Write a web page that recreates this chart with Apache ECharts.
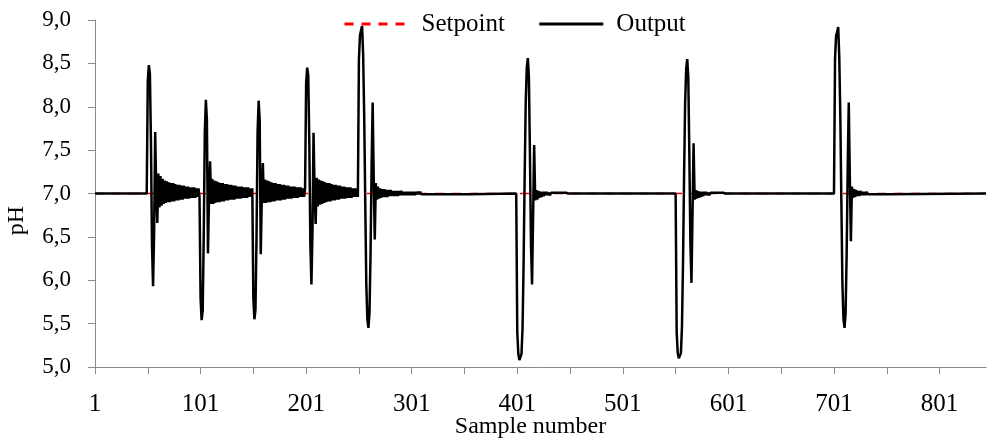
<!DOCTYPE html>
<html>
<head>
<meta charset="utf-8">
<script src="https://cdn.jsdelivr.net/npm/echarts@6/dist/echarts.min.js"></script>
<style>
html,body{margin:0;padding:0;background:#fff;}
#chart{width:987px;height:438px;}
</style>
</head>
<body>
<div id="chart"></div>
<script>
// ---- data (sample number, pH) ----
const setpoint = 7.0;
const firstSample = 1;
const lastSample = 845;
const xTickValues = [1, 51, 101, 151, 201, 251, 301, 351, 401, 451, 501, 551, 601, 651, 701, 751, 801];
const xLabelValues = [1, 101, 201, 301, 401, 501, 601, 701, 801];
const eventStarts = [51, 101, 151, 201, 251, 401, 552, 702];

const evA = [8.30, 8.48, 8.38, 7.60, 6.40, 5.93, 6.55, 7.71, 7.05, 6.66,
  7.23, 6.84, 7.20, 6.86, 7.17, 6.88, 7.15, 6.89, 7.14, 6.90, 7.13, 6.90, 7.12, 6.91, 7.12, 6.91, 7.11, 6.92, 7.10, 6.92,
  7.10, 6.93, 7.09, 6.93, 7.09, 6.94, 7.08, 6.94, 7.08, 6.94, 7.07, 6.95, 7.07, 6.95, 7.07, 6.95, 7.06, 6.96, 7.06, 6.96];
const evB = [5.80, 5.54, 5.65, 6.50, 7.70, 8.08, 7.85, 6.31, 6.95, 7.37,
  6.88, 7.17, 6.88, 7.15, 6.89, 7.14, 6.90, 7.13, 6.90, 7.12, 6.91, 7.12, 6.91, 7.11, 6.92, 7.11, 6.92, 7.10, 6.93, 7.10,
  6.93, 7.09, 6.93, 7.09, 6.94, 7.08, 6.94, 7.08, 6.94, 7.08, 6.95, 7.07, 6.95, 7.07, 6.95, 7.07, 6.96, 7.06, 6.96, 7.06];
const evC = [5.80, 5.55, 5.66, 6.50, 7.70, 8.07, 7.85, 6.30, 6.95, 7.35,
  6.89, 7.16, 6.89, 7.15, 6.90, 7.14, 6.90, 7.13, 6.91, 7.12, 6.91, 7.12, 6.92, 7.11, 6.92, 7.11, 6.92, 7.10, 6.93, 7.10,
  6.93, 7.09, 6.94, 7.09, 6.94, 7.08, 6.94, 7.08, 6.95, 7.08, 6.95, 7.07, 6.95, 7.07, 6.96, 7.07, 6.96, 7.06, 6.96, 7.06];
const evD = [8.28, 8.45, 8.36, 7.60, 6.42, 5.95, 6.55, 7.70, 7.05, 6.65,
  7.18, 6.85, 7.16, 6.87, 7.15, 6.88, 7.14, 6.89, 7.13, 6.90, 7.12, 6.91, 7.12, 6.91, 7.11, 6.92, 7.10, 6.92, 7.10, 6.93,
  7.09, 6.93, 7.09, 6.94, 7.08, 6.94, 7.08, 6.94, 7.07, 6.95, 7.07, 6.95, 7.07, 6.95, 7.06, 6.96, 7.06, 6.96, 7.06, 6.96];
const evE = [8.55, 8.82, 8.88, 8.93, 8.60, 7.90, 6.90, 5.95, 5.55, 5.45, 5.62, 6.30, 7.30, 8.05, 7.20, 6.47,
  7.12, 6.93, 7.08, 6.94, 7.06, 6.95, 7.05, 6.96, 7.05, 6.96, 7.04, 6.96, 7.04, 6.97, 7.04, 6.97, 7.03, 6.97, 7.03, 6.97,
  7.03, 6.97, 7.03, 6.98, 7.03, 6.98, 7.02, 6.98, 7.02, 6.98, 7.02, 6.98, 7.02, 6.98, 7.02, 6.98, 7.02, 6.98, 7.02, 6.99,
  7.02, 6.99, 7.02, 6.99, 7.01, 6.99, 7.01, 6.99, 7.01, 6.99, 7.01, 6.99, 7.01, 6.99, 7.01, 6.99, 7.01, 6.99, 7.01, 6.99,
  7.01, 6.99, 7.01, 6.99, 7.01, 6.99, 7.01, 6.99, 7.01, 6.99, 7.01, 6.99, 7.01, 6.99, 7.01, 6.99, 7.01, 6.99, 7.01, 6.99,
  7.01, 6.99, 7.01, 6.99, 7.01, 6.99, 7.01, 6.99, 7.01, 6.99];
const evF = [5.40, 5.15, 5.08, 5.08, 5.15, 5.45, 6.20, 7.20, 8.05, 8.45, 8.56, 8.35, 7.45, 6.40, 5.95, 6.75, 7.56, 6.92,
  7.04, 6.93, 7.03, 6.95, 7.02, 6.96, 7.02, 6.97, 7.02, 6.98, 7.02, 6.98, 7.01, 6.98, 7.01, 6.99, 7.01, 6.99, 7.01, 6.99,
  7.01, 6.99, 7.01, 6.99, 7.01, 6.99, 7.01, 6.99, 7.01, 6.99];
const evG = [5.40, 5.16, 5.10, 5.10, 5.16, 5.46, 6.20, 7.20, 8.04, 8.44, 8.55, 8.34, 7.45, 6.42, 5.97, 6.76, 7.58, 6.93,
  7.04, 6.94, 7.03, 6.95, 7.02, 6.96, 7.02, 6.97, 7.02, 6.98, 7.02, 6.98, 7.01, 6.98, 7.01, 6.99, 7.01, 6.99, 7.01, 6.99,
  7.01, 6.99, 7.01, 6.99, 7.01, 6.99, 7.01, 6.99];
const evH = [8.55, 8.82, 8.86, 8.92, 8.58, 7.90, 6.90, 5.95, 5.55, 5.45, 5.62, 6.30, 7.30, 8.05, 7.20, 6.45,
  7.08, 6.95, 7.05, 6.96, 7.04, 6.97, 7.03, 6.97, 7.03, 6.98, 7.02, 6.98, 7.02, 6.98, 7.02, 6.99, 7.01, 6.99, 7.01, 6.99,
  7.01, 6.99, 7.01, 6.99, 7.01, 6.99, 7.01, 6.99, 7.01, 6.99, 7.01, 6.99, 7.01, 6.99];
const eventValues = [evA, evB, evC, evD, evE, evF, evG, evH];

// ---- build series points ----
const outputPoints = [[firstSample, setpoint]];
eventStarts.forEach(function (start, k) {
  const vals = eventValues[k];
  const last = outputPoints[outputPoints.length - 1][0];
  if (last < start - 1) outputPoints.push([start - 1, setpoint]);
  vals.forEach(function (v, i) { outputPoints.push([start + i, v]); });
  const end = start + vals.length - 1;
  const next = k + 1 < eventStarts.length ? eventStarts[k + 1] : lastSample + 1;
  if (next > end + 1) outputPoints.push([end + 1, setpoint]);
});
if (outputPoints[outputPoints.length - 1][0] < lastSample) outputPoints.push([lastSample, setpoint]);
const setpointPoints = [[firstSample, setpoint], [lastSample, setpoint]];

const FONT = 'Liberation Serif, Times New Roman, serif';
const axisGray = '#898989';

const chart = echarts.init(document.getElementById('chart'), null, {renderer: 'canvas'});
chart.setOption({
  animation: false,
  backgroundColor: '#ffffff',
  grid: {left: 95, right: 1, top: 20, bottom: 71, containLabel: false, outerBoundsMode: 'none'},
  legend: {
    data: ['Setpoint', 'Output'],
    left: 343, top: 11, padding: 0,
    itemWidth: 64, itemHeight: 14, itemGap: 33,
    itemStyle: {color: 'rgba(0,0,0,0)', borderColor: 'rgba(0,0,0,0)', borderWidth: 0, opacity: 0},
    lineStyle: {width: 3},
    textStyle: {fontFamily: FONT, fontSize: 25, color: '#000', padding: [0, 0, 0, 8], lineHeight: 26}
  },
  xAxis: {
    type: 'value', min: firstSample, max: lastSample,
    name: 'Sample number', nameLocation: 'middle', nameGap: 48, nameMoveOverlap: false,
    nameTextStyle: {fontFamily: FONT, fontSize: 24, color: '#000', padding: [0, 20, 0, 0]},
    axisLine: {show: true, onZero: false, lineStyle: {color: axisGray, width: 1}},
    axisTick: {show: true, length: 7, inside: false, lineStyle: {color: axisGray}, customValues: xTickValues},
    axisLabel: {fontFamily: FONT, fontSize: 25, color: '#000', margin: 25, customValues: xLabelValues,
      formatter: function (v) { return String(v); }},
    splitLine: {show: false}
  },
  yAxis: {
    type: 'value', min: 5, max: 9, interval: 0.5,
    name: 'pH', nameLocation: 'middle', nameGap: 66,
    nameTextStyle: {fontFamily: FONT, fontSize: 24, color: '#000', padding: [0, 54, 0, 0]},
    axisLine: {show: true, lineStyle: {color: axisGray, width: 1}},
    axisTick: {show: true, length: 7, lineStyle: {color: axisGray}},
    axisLabel: {fontFamily: FONT, fontSize: 23, color: '#000', margin: 24,
      formatter: function (v) { return v.toFixed(1).replace('.', ','); }},
    splitLine: {show: false}
  },
  series: [
    {
      name: 'Setpoint', type: 'line', data: setpointPoints,
      symbol: 'none', showSymbol: false,
      lineStyle: {color: '#ff0000', width: 1.7, type: [9, 8]},
      itemStyle: {color: '#ff0000'}, z: 2
    },
    {
      name: 'Output', type: 'line', data: outputPoints,
      symbol: 'none', showSymbol: false, sampling: null,
      lineStyle: {color: '#000000', width: 2.5},
      itemStyle: {color: '#000000'}, z: 3
    }
  ]
});
</script>
</body>
</html>
